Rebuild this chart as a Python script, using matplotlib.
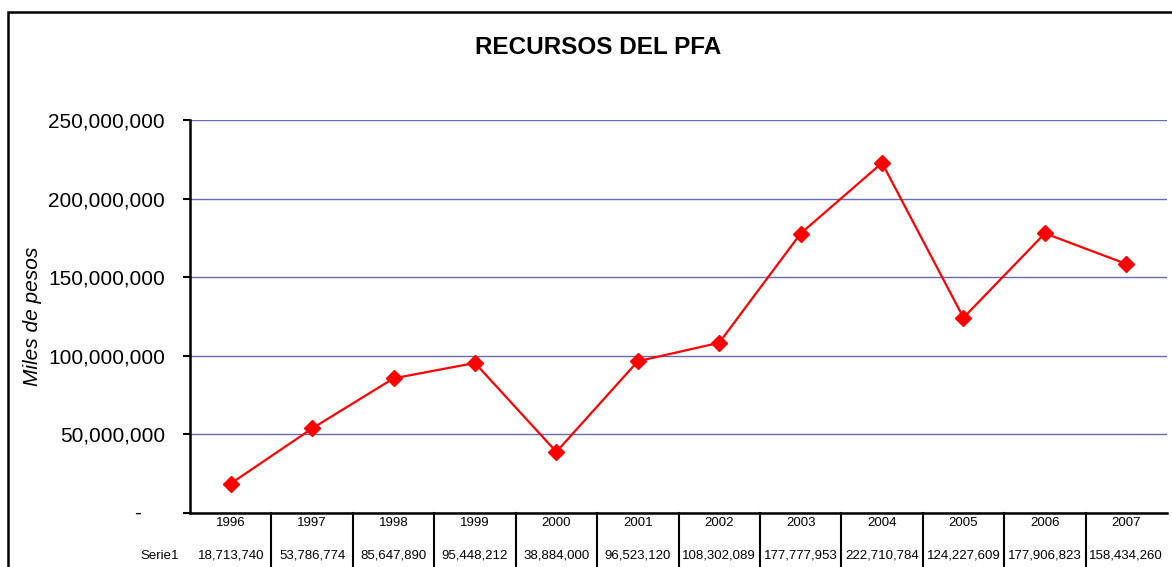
import matplotlib; matplotlib.use("Agg")
import matplotlib.pyplot as plt
from matplotlib.patches import Rectangle
from matplotlib.ticker import FuncFormatter
import matplotlib.transforms as mtrans

plt.rcParams['font.family'] = ['Liberation Sans', 'DejaVu Sans']

years = ["1996","1997","1998","1999","2000","2001","2002","2003","2004","2005","2006","2007"]
recursos = [18713740, 53786774, 85647890, 95448212, 38884000, 96523120,
            108302089, 177777953, 222710784, 124227609, 177906823, 158434260]
series_name = "Serie1"
yticks = [0, 50000000, 100000000, 150000000, 200000000, 250000000]

W, H = 1172, 567
fig = plt.figure(figsize=(W/100, H/100), dpi=100)
ax = fig.add_axes([190/W, 1-513/H, (1167-190)/W, (513-120)/H])

x = range(len(years))
ax.plot(x, recursos, "-D", color="#ff0000", lw=1.6, ms=8.5, zorder=3, clip_on=False)

ax.set_xlim(-0.5, len(years)-0.5)
ax.set_ylim(0, 250000000)
ax.set_yticks(yticks)
ax.yaxis.set_major_formatter(FuncFormatter(lambda v, p: "" if v == 0 else f"{v:,.0f}"))
ax.tick_params(axis="y", labelsize=15, length=5, width=1.5, direction="out", pad=13)
ax.tick_params(axis="x", bottom=False, labelbottom=False)
ax.grid(axis="y", color="#6a6aae", lw=1)
ax.set_axisbelow(True)
for s in ["top", "right"]:
    ax.spines[s].set_visible(False)
ax.spines["left"].set_linewidth(1.8)
ax.spines["bottom"].set_linewidth(1.8)

# zero label shown as a dash (accounting format)
tr = mtrans.blended_transform_factory(ax.transAxes, ax.transData)
ax.text(-0.054, 0, "-", transform=tr, ha="center", va="center", fontsize=15)

ax.set_ylabel("Miles de pesos", fontsize=15, style="italic")
ax.yaxis.set_label_coords(-0.151, 0.5)

fig.text(0.5105, 1-48/H, "RECURSOS DEL PFA", ha="center", va="center",
         fontsize=17.5, fontweight="bold")

# data table under the axis
trx = mtrans.blended_transform_factory(ax.transData, ax.transAxes)
for i in range(len(years)-1):
    ax.plot([i+0.5, i+0.5], [0, -0.2], color="black", lw=1.5, transform=trx, clip_on=False)
for i, (yr, v) in enumerate(zip(years, recursos)):
    ax.text(i, -0.026, yr, transform=trx, ha="center", va="center", fontsize=9.5)
    ax.text(i, -0.109, f"{v:,}", transform=trx, ha="center", va="center", fontsize=9.5)
ax.text(-0.011, -0.109, series_name, transform=ax.transAxes, ha="right", va="center", fontsize=9.5)

# outer chart frame
fig.patches.append(Rectangle((8/W, -0.1), 1.2, 1-12/H+0.1, transform=fig.transFigure,
                             fill=False, ec="black", lw=1.8))

fig.savefig("out.png", dpi=100)
